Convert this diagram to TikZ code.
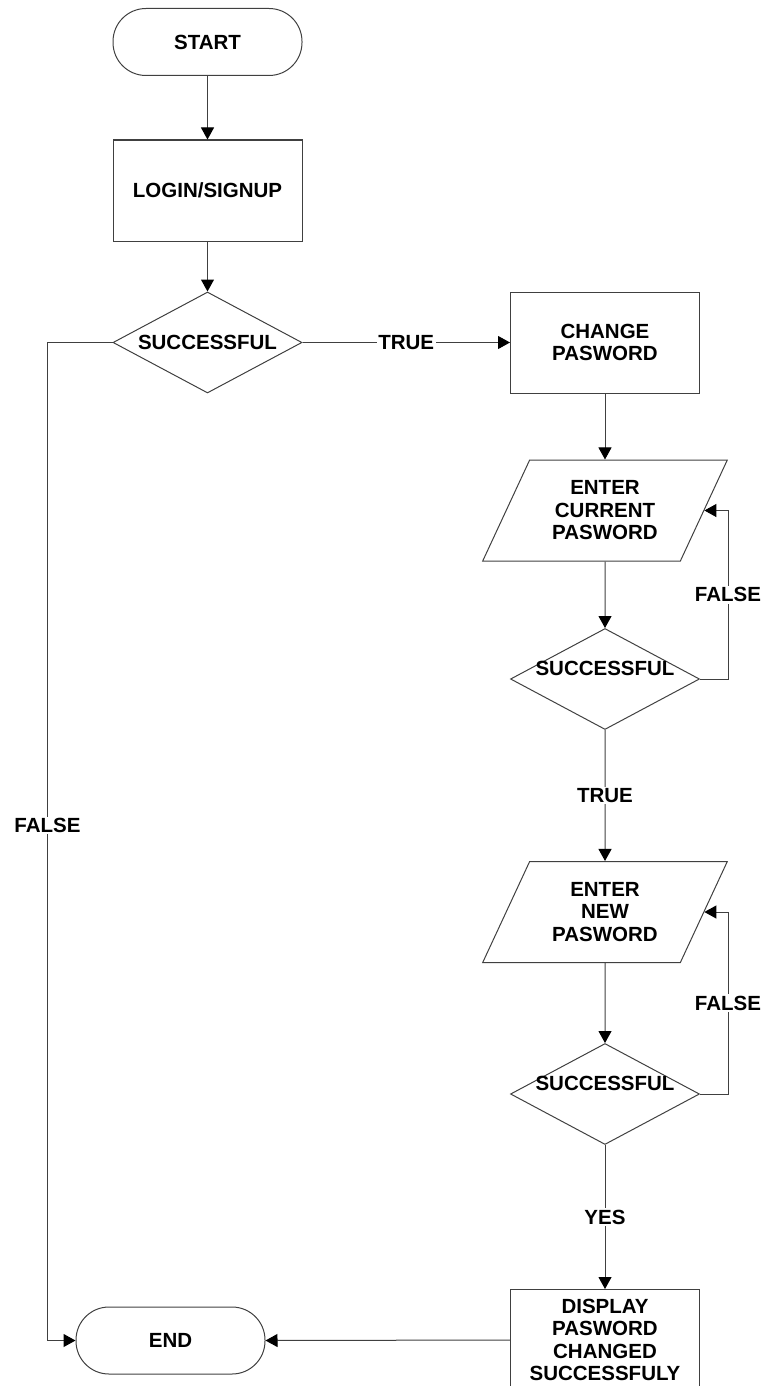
\documentclass[tikz,border=0pt]{standalone}
\usepackage{fontspec}
\setmainfont{Liberation Sans}
\usetikzlibrary{shapes.geometric,arrows.meta}
\begin{document}
\begin{tikzpicture}[x=1pt,y=-1pt,
  every node/.style={font=\fontsize{20.5}{22.5}\selectfont\bfseries, align=center, inner sep=0pt},
  terminal/.style={draw=black!75, line width=1pt, rectangle, rounded corners=33pt, minimum width=189pt, minimum height=67pt},
  process/.style={draw=black!75, line width=1pt, rectangle, minimum width=189pt, minimum height=101pt},
  decision/.style={draw=black!75, line width=1pt, diamond, minimum width=189pt, minimum height=101pt},
  io/.style={draw=black!75, line width=1pt, trapezium, trapezium left angle=61, trapezium right angle=119,
             trapezium stretches=true, minimum width=245pt, minimum height=101pt},
  flow/.style={draw=black!75, line width=1pt, -{Triangle[length=12pt,width=13pt,color=black]}},
  tag/.style={fill=white, inner sep=1.5pt}
]
\useasboundingbox (0,0) rectangle (766,1386);

% left column
\node[terminal] (start) at (207.5,42) {START};
\node[process] (login) at (207.5,190.5) {LOGIN/SIGNUP};
\node[decision] (ok1) at (207.5,342.5) {};
\node (ok1t) at (ok1.center) {SUCCESSFUL};
\node[terminal] (end) at (170.5,1340.5) {END};

% right column
\node[process] (change) at (605,342.5) {CHANGE\\PASWORD};
\node[io] (cur) at (605,510.5) {ENTER\\CURRENT\\PASWORD};
\node[decision] (ok2) at (605,679) {};
\node (ok2t) at (605,668) {SUCCESSFUL};
\node[io] (new) at (605,912) {ENTER\\NEW\\PASWORD};
\node[decision] (ok3) at (605,1094) {};
\node (ok3t) at (605,1083) {SUCCESSFUL};
\node[process] (disp) at (605,1340) {DISPLAY\\PASWORD\\CHANGED\\SUCCESSFULY};

% connectors
\draw[flow] (start) -- (login);
\draw[flow] (login) -- (ok1);
\draw[flow] (ok1.east) -- node[tag]{TRUE} (change.west);
\draw[flow] (change) -- (cur);
\draw[flow] (cur) -- (ok2);
\draw[flow] (ok2.east) -- ++(28,0) |- node[tag,pos=0.25]{FALSE} (cur.east);
\draw[flow] (ok2.south) -- node[tag]{TRUE} (new.north);
\draw[flow] (new) -- (ok3);
\draw[flow] (ok3.east) -- ++(28,0) |- node[tag,pos=0.25]{FALSE} (new.east);
\draw[flow] (ok3.south) -- node[tag]{YES} (disp.north);
\draw[flow] (disp.west) -- (end.east);
\draw[flow] (ok1.west) -- ++(-65,0) |- node[tag,pos=0.242]{FALSE} (end.west);
\end{tikzpicture}
\end{document}
